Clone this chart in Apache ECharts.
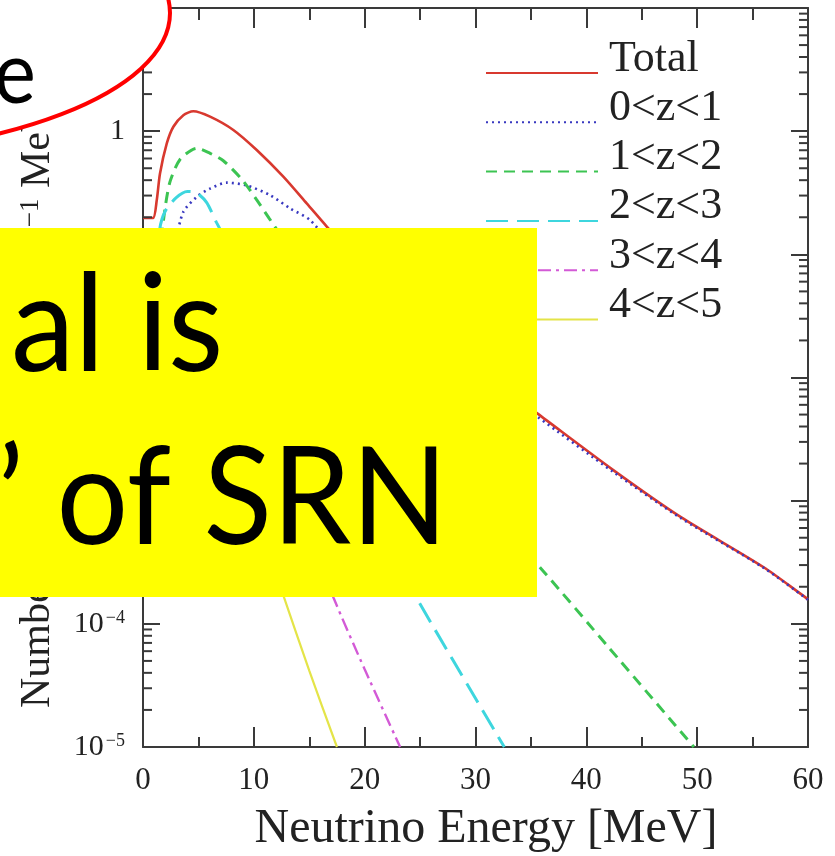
<!DOCTYPE html>
<html><head><meta charset="utf-8">
<script src="https://cdn.jsdelivr.net/npm/echarts@6/dist/echarts.min.js"></script>
<style>html,body{margin:0;padding:0;background:#fff}#c{width:835px;height:856px}</style>
</head><body><div id="c"></div>
<script>
const seriesNames = ['Total', '0<z<1', '1<z<2', '2<z<3', '3<z<4', '4<z<5'];
const seriesColors = ['#d8392f', '#3838c0', '#3cc452', '#3ed6de', '#d35ad6', '#e4e448'];

const totalE = [0, 0.9, 1.24, 1.53, 2.14, 2.74, 3.64, 4.54, 6.05, 8.15, 10.26, 12.66, 14.77, 16.58, 17.5, 20, 22.5, 25, 27.5, 30, 32.5, 35.6, 42.4, 48.5, 56, 60];
const totalV = [0.197, 0.197, 0.275, 0.451, 0.791, 1.086, 1.349, 1.452, 1.312, 1.023, 0.703, 0.427, 0.259, 0.168, 0.137, 0.0812, 0.0481, 0.0297, 0.0189, 0.0123, 0.00817, 0.00509, 0.00178, 0.000738, 0.000288, 0.000158];

const z01E = [1.0, 1.5, 2.0, 2.5, 3.0, 3.64, 4.84, 6.05, 7.55, 9.36, 11.46, 13.27, 15.07, 17.5, 20, 22.5, 25, 27.5, 30, 32.5, 35.6, 42.4, 48.5, 56, 60];
const z01V = [0.00501, 0.01778, 0.0447, 0.0851, 0.1349, 0.2213, 0.2924, 0.342, 0.382, 0.363, 0.3027, 0.236, 0.1897, 0.1059, 0.0646, 0.0403, 0.0257, 0.0168, 0.01122, 0.00759, 0.00479, 0.001718, 0.000724, 0.000285, 0.0001567];

const z12E = [1.0, 1.5, 2.0, 2.44, 3.34, 4.84, 6.05, 7.25, 9.0, 10.2, 11.4, 15, 17.5, 20, 22.5, 25, 27.5, 30, 32.5, 36, 42, 49.7];
const z12V = [0.0251, 0.1, 0.2399, 0.389, 0.5888, 0.7261, 0.6607, 0.5754, 0.3981, 0.2818, 0.195, 0.0661, 0.0316, 0.01514, 0.00741, 0.0038, 0.002, 0.001047, 0.000603, 0.000275, 0.0000646, 0.00001];

const z23E = [1.0, 1.5, 2.0, 3.0, 4.0, 4.84, 5.75, 6.65, 10, 15, 20, 24.7, 28, 32.6];
const z23V = [0.0501, 0.1585, 0.2239, 0.2884, 0.3236, 0.3162, 0.263, 0.1799, 0.049, 0.00708, 0.001, 0.000162, 0.0000501, 0.00001];

const z34E = [1.0, 1.5, 2.0, 3.0, 4.0, 5.0, 7.5, 10, 12.5, 15, 17.2, 20, 23.2];
const z34V = [0.0501, 0.1122, 0.1413, 0.1585, 0.1202, 0.0759, 0.0224, 0.00661, 0.00191, 0.000525, 0.000162, 0.0000427, 0.00001];

const z45E = [1.0, 1.5, 2.0, 2.5, 3.0, 4.0, 6.0, 8.0, 10.0, 12.7, 15, 17.5];
const z45V = [0.0251, 0.0562, 0.0759, 0.0759, 0.0631, 0.0355, 0.01047, 0.00302, 0.000871, 0.000166, 0.0000417, 0.00001];

const xTickLabels = ['0', '10', '20', '30', '40', '50', '60'];
const yMinorTicks = [2e-5, 3e-5, 4e-5, 5e-5, 6e-5, 7e-5, 8e-5, 9e-5,
  2e-4, 3e-4, 4e-4, 5e-4, 6e-4, 7e-4, 8e-4, 9e-4,
  2e-3, 3e-3, 4e-3, 5e-3, 6e-3, 7e-3, 8e-3, 9e-3,
  2e-2, 3e-2, 4e-2, 5e-2, 6e-2, 7e-2, 8e-2, 9e-2,
  0.2, 0.3, 0.4, 0.5, 0.6, 0.7, 0.8, 0.9,
  2, 3, 4, 5, 6, 7, 8, 9];

const xTitle = 'Neutrino Energy [MeV]';
const yTitle = 'Number Flux of \u03bd\u0304{sub|e} [cm{sup|\u22122} sec{sup|\u22121} MeV{sup|\u22121}]';
const overlayLine1 = 'al is';
const overlayLine2 = '\u2019 of SRN';
const ellipseText = 'e';

const serif = 'Liberation Serif';
const axisColor = '#3a3a3a';
const textColor = '#222';

const lineStyles = [
  { width: 2.6, type: 'solid' },
  { width: 2.6, type: [2, 4] },
  { width: 3, type: [11, 7] },
  { width: 3, type: [22, 9] },
  { width: 2.4, type: [13, 5, 3, 5] },
  { width: 2.2, type: 'solid' }
];
const dataSets = [[totalE, totalV], [z01E, z01V], [z12E, z12V], [z23E, z23V], [z34E, z34V], [z45E, z45V]];

const series = dataSets.map((d, i) => ({
  name: seriesNames[i],
  type: 'line',
  data: d[0].map((e, k) => [e, d[1][k]]),
  symbol: 'none',
  showSymbol: false,
  smooth: 0.25,
  clip: true,
  color: seriesColors[i],
  lineStyle: { color: seriesColors[i], width: lineStyles[i].width, type: lineStyles[i].type },
  z: 2 + i
}));

series.push({
  type: 'custom',
  name: 'yMinor',
  coordinateSystem: 'cartesian2d',
  xAxisIndex: 0, yAxisIndex: 0,
  silent: true,
  clip: false,
  z: 10,
  data: yMinorTicks.map(v => [0, v]),
  renderItem: function (params, api) {
    const y = api.coord([0, api.value(1)])[1];
    const cs = params.coordSys;
    return {
      type: 'group',
      children: [
        { type: 'line', shape: { x1: cs.x, y1: y, x2: cs.x + 9, y2: y }, style: { stroke: axisColor, lineWidth: 2 } },
        { type: 'line', shape: { x1: cs.x + cs.width - 9, y1: y, x2: cs.x + cs.width, y2: y }, style: { stroke: axisColor, lineWidth: 2 } }
      ]
    };
  }
});

function yLabel(v) {
  const e = Math.round(Math.log10(v));
  if (e === 0) return '1';
  if (e === 1) return '10';
  return '10{sup|\u2212' + (-e) + '}';
}

const chart = echarts.init(document.getElementById('c'), null, { renderer: 'canvas' });
chart.setOption({
  animation: false,
  backgroundColor: '#ffffff',
  grid: { left: 143, right: 27, top: 8, bottom: 109, containLabel: false, outerBoundsMode: 'none' },
  legend: {
    data: seriesNames,
    orient: 'vertical',
    left: 480, top: 32,
    itemWidth: 112, itemHeight: 14, itemGap: 2.3,
    selectedMode: false,
    itemStyle: { opacity: 0 },
    formatter: (name) => '{a|' + name + '}\n{b| }',
    textStyle: {
      fontFamily: serif, fontSize: 44, color: textColor, padding: [0, 0, 0, 6],
      rich: {
        a: { fontFamily: serif, fontSize: 44, lineHeight: 20, color: textColor },
        b: { fontSize: 2, lineHeight: 28 }
      }
    }
  },
  xAxis: [
    {
      type: 'value', min: 0, max: 60, interval: 10, position: 'bottom',
      name: xTitle, nameLocation: 'middle', nameGap: 58,
      nameTextStyle: { fontFamily: serif, fontSize: 48, color: textColor, padding: [0, 0, 0, 21] },
      axisLine: { show: true, onZero: false, lineStyle: { color: axisColor, width: 2 } },
      axisTick: { show: true, inside: true, length: 20, lineStyle: { color: axisColor, width: 2 } },
      minorTick: { show: true, splitNumber: 2, length: 10, lineStyle: { color: axisColor, width: 2 } },
      splitLine: { show: false },
      axisLabel: { fontFamily: serif, fontSize: 31, color: textColor, margin: 18,
        formatter: (v) => xTickLabels[Math.round(v / 10)] }
    },
    {
      type: 'value', min: 0, max: 60, interval: 10, position: 'top',
      axisLine: { show: true, onZero: false, lineStyle: { color: axisColor, width: 2 } },
      axisTick: { show: true, inside: true, length: 20, lineStyle: { color: axisColor, width: 2 } },
      minorTick: { show: true, splitNumber: 2, length: 12, lineStyle: { color: axisColor, width: 2 } },
      splitLine: { show: false },
      axisLabel: { show: false }
    }
  ],
  yAxis: [
    {
      type: 'log', logBase: 10, min: 1e-5, max: 10, position: 'left',
      axisLine: { show: true, onZero: false, lineStyle: { color: axisColor, width: 2 } },
      axisTick: { show: true, inside: true, length: 17, lineStyle: { color: axisColor, width: 2 } },
      splitLine: { show: false },
      axisLabel: {
        fontFamily: serif, fontSize: 30, color: textColor, margin: 18,
        showMinLabel: true, showMaxLabel: true,
        formatter: yLabel,
        rich: { sup: { fontFamily: serif, fontSize: 18, verticalAlign: 'top', lineHeight: 30, padding: [0, 0, 0, 2] } }
      }
    },
    {
      type: 'log', logBase: 10, min: 1e-5, max: 10, position: 'right',
      axisLine: { show: true, onZero: false, lineStyle: { color: axisColor, width: 2 } },
      axisTick: { show: true, inside: true, length: 17, lineStyle: { color: axisColor, width: 2 } },
      splitLine: { show: false },
      axisLabel: { show: false }
    }
  ],
  series: series,
  graphic: [
    {
      type: 'text', z: 50, x: 38, y: 708, rotation: Math.PI / 2,
      style: {
        text: yTitle, fontFamily: serif, fontSize: 42, fill: textColor,
        align: 'left', verticalAlign: 'middle', textAlign: 'left', textVerticalAlign: 'middle',
        rich: {
          sup: { fontFamily: serif, fontSize: 27, verticalAlign: 'top', lineHeight: 42 },
          sub: { fontFamily: serif, fontSize: 27, verticalAlign: 'bottom', lineHeight: 42 }
        }
      }
    },
    {
      type: 'rect', z: 100, shape: { x: 0, y: 228, width: 537, height: 369 },
      style: { fill: '#ffff00' }
    },
    {
      type: 'text', z: 101, x: 11, y: 327, scaleX: 0.94,
      style: { text: overlayLine1, fontFamily: 'Lato', fontSize: 136, fill: '#000',
        align: 'left', verticalAlign: 'middle', textAlign: 'left', textVerticalAlign: 'middle' }
    },
    {
      type: 'text', z: 101, x: -3, y: 500, scaleX: 0.93,
      style: { text: overlayLine2, fontFamily: 'Lato', fontSize: 136, fill: '#000',
        align: 'left', verticalAlign: 'middle', textAlign: 'left', textVerticalAlign: 'middle' }
    },
    {
      type: 'ellipse', z: 100, shape: { cx: -200, cy: 13, rx: 370, ry: 143 },
      style: { fill: '#ffffff', stroke: '#ff0000', lineWidth: 4 }
    },
    {
      type: 'text', z: 101, x: -6, y: 75, scaleX: 0.9,
      style: { text: ellipseText, fontFamily: 'Lato', fontSize: 88, fill: '#000',
        align: 'left', verticalAlign: 'middle', textAlign: 'left', textVerticalAlign: 'middle' }
    }
  ]
});
</script>
</body></html>
